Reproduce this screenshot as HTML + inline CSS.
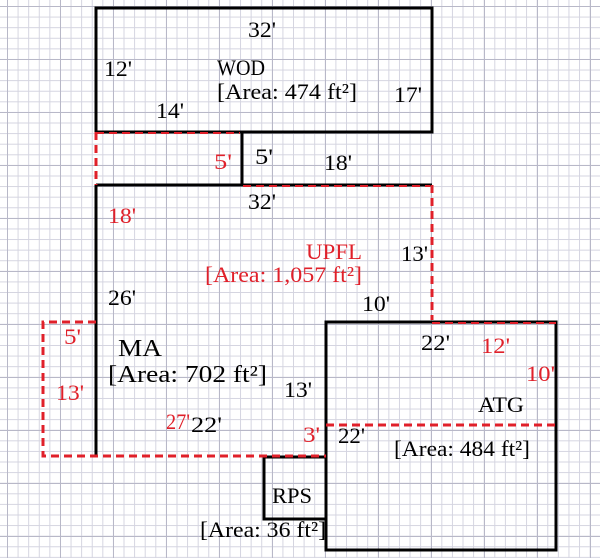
<!DOCTYPE html>
<html><head><style>
html,body{margin:0;padding:0;}
body{width:600px;height:558px;overflow:hidden;background-color:#fff;
background-image:
linear-gradient(to right,#b8b8c8 1px,transparent 1px),
linear-gradient(to bottom,#b8b8c8 1px,transparent 1px),
linear-gradient(to right,#d4d4e0 1px,transparent 1px),
linear-gradient(to bottom,#d4d4e0 1px,transparent 1px);
background-size:53px 53px,53px 53px,10.6px 10.6px,10.6px 10.6px;
background-position:7px 6px,7px 6px,7px 6px,7px 6px;}
svg{position:absolute;left:0;top:0;}
text{font-family:"Liberation Serif",serif;font-size:22px;}
.r{fill:#e0202a;}
</style></head><body>
<svg width="600" height="558" viewBox="0 0 600 558">
<g stroke="#000" stroke-width="3" fill="none">
<rect x="96" y="8" width="336" height="124"/>
<polyline points="96,132 242,132 242,185 432,185"/>
<line x1="96" y1="185" x2="242" y2="185"/>
<line x1="96" y1="185" x2="96" y2="456"/>
<rect x="326" y="322" width="230" height="228"/>
<rect x="264" y="457" width="62" height="62"/>
</g>
<g stroke="#e0202a" stroke-width="3" fill="none" stroke-dasharray="8,5">
<line x1="96" y1="132" x2="96" y2="185"/>
<line x1="96" y1="133" x2="240" y2="133" stroke-width="2"/>
<line x1="432" y1="185" x2="432" y2="320"/>
<line x1="243" y1="186" x2="430" y2="186" stroke-width="2"/>
<polyline points="96,322 43,322 43,456 326,456"/>
<line x1="326" y1="425" x2="556" y2="425"/>
<line x1="432" y1="323" x2="556" y2="323" stroke-width="2"/>
</g>
<g lengthAdjust="spacingAndGlyphs">
<text x="248" y="37" textLength="28" lengthAdjust="spacingAndGlyphs">32'</text>
<text x="104" y="76" textLength="28" lengthAdjust="spacingAndGlyphs">12'</text>
<text x="217" y="75" textLength="48" lengthAdjust="spacingAndGlyphs">WOD</text>
<text x="217" y="99" textLength="140" lengthAdjust="spacingAndGlyphs">[Area: 474 ft²]</text>
<text x="394" y="102" textLength="28" lengthAdjust="spacingAndGlyphs">17'</text>
<text x="156" y="118" textLength="28" lengthAdjust="spacingAndGlyphs">14'</text>
<text x="214" y="169" textLength="18" lengthAdjust="spacingAndGlyphs" class="r">5'</text>
<text x="255" y="164" textLength="18" lengthAdjust="spacingAndGlyphs">5'</text>
<text x="324" y="170" textLength="28" lengthAdjust="spacingAndGlyphs">18'</text>
<text x="248" y="209" textLength="28" lengthAdjust="spacingAndGlyphs">32'</text>
<text x="108" y="223" textLength="28" lengthAdjust="spacingAndGlyphs" class="r">18'</text>
<text x="306" y="259" textLength="56" lengthAdjust="spacingAndGlyphs" class="r">UPFL</text>
<text x="205" y="282" textLength="157" lengthAdjust="spacingAndGlyphs" class="r">[Area: 1,057 ft²]</text>
<text x="401" y="261" textLength="27" lengthAdjust="spacingAndGlyphs">13'</text>
<text x="108" y="305" textLength="28" lengthAdjust="spacingAndGlyphs">26'</text>
<text x="362" y="311" textLength="28" lengthAdjust="spacingAndGlyphs">10'</text>
<text x="64" y="344" textLength="17" lengthAdjust="spacingAndGlyphs" class="r">5'</text>
<text x="118" y="356" textLength="44" lengthAdjust="spacingAndGlyphs" style="font-size:24px">MA</text>
<text x="108" y="382" textLength="159" lengthAdjust="spacingAndGlyphs" style="font-size:24px">[Area: 702 ft²]</text>
<text x="56" y="400" textLength="28" lengthAdjust="spacingAndGlyphs" class="r">13'</text>
<text x="284" y="397" textLength="28" lengthAdjust="spacingAndGlyphs">13'</text>
<text x="166" y="429" textLength="24" lengthAdjust="spacingAndGlyphs" class="r">27'</text>
<text x="191" y="432" textLength="31" lengthAdjust="spacingAndGlyphs">22'</text>
<text x="421" y="350" textLength="29" lengthAdjust="spacingAndGlyphs">22'</text>
<text x="481" y="353" textLength="29" lengthAdjust="spacingAndGlyphs" class="r">12'</text>
<text x="526" y="381" textLength="29" lengthAdjust="spacingAndGlyphs" class="r">10'</text>
<text x="478" y="412" textLength="46" lengthAdjust="spacingAndGlyphs">ATG</text>
<text x="303" y="442" textLength="17" lengthAdjust="spacingAndGlyphs" class="r">3'</text>
<text x="338" y="443" textLength="27" lengthAdjust="spacingAndGlyphs">22'</text>
<text x="394" y="456" textLength="136" lengthAdjust="spacingAndGlyphs">[Area: 484 ft²]</text>
<text x="272" y="503" textLength="40" lengthAdjust="spacingAndGlyphs">RPS</text>
<text x="200" y="537" textLength="126" lengthAdjust="spacingAndGlyphs">[Area: 36 ft²]</text>
</g>
</svg>
</body></html>
